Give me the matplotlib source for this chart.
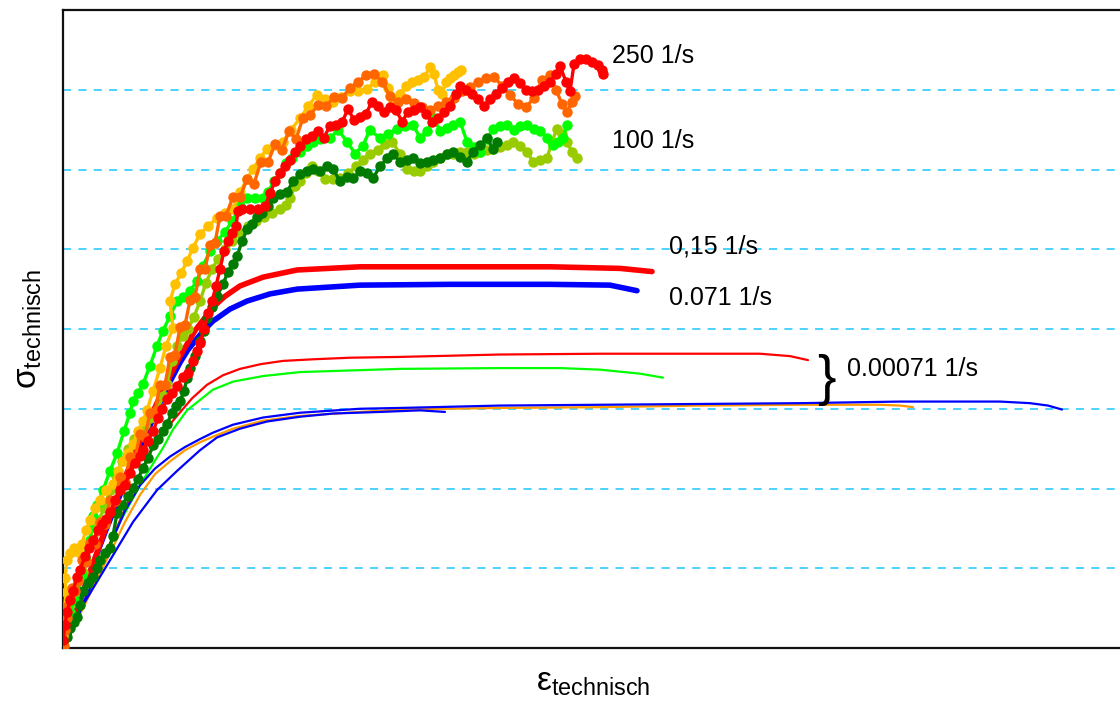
import numpy as np
import matplotlib
matplotlib.use("Agg")
import matplotlib.pyplot as plt

plt.rcParams['font.family'] = ['Liberation Sans', 'DejaVu Sans']
plt.rcParams['mathtext.fontset'] = 'custom'
plt.rcParams['mathtext.rm'] = 'Liberation Sans'
plt.rcParams['mathtext.it'] = 'Liberation Sans'

# strain in %, stress in MPa

# --- 250 1/s (three tests, noisy high speed data)
eps_250_orange = [0.05, 0.10, 0.20, 0.15, 0.35, 0.45, 0.60, 0.75, 0.95, 1.15, 1.35, 1.60, 1.85, 2.10, 2.35, 2.60,
                  2.85, 3.10, 3.35, 3.60, 3.85, 4.10, 4.35, 4.60, 4.85, 5.10, 5.35, 5.60, 5.85, 6.10, 6.35, 6.60,
                  6.85, 7.10, 7.35, 7.60, 7.85, 8.15, 8.50, 8.85, 9.20, 9.55, 9.90, 10.25, 10.60, 10.95, 11.30,
                  11.65, 12.00, 12.35, 12.75, 13.15, 13.55, 13.95, 14.35, 14.75, 15.15, 15.55, 15.95, 16.35,
                  16.75, 17.15, 17.55, 17.95, 18.35, 18.75, 19.15, 19.55, 19.95, 20.35, 20.75, 21.15, 21.55,
                  21.95, 22.35, 22.75, 23.15, 23.55, 23.95, 24.35, 24.65, 24.95, 25.20, 25.45, 25.60]
sig_250_orange = [2, 22, 38, 52, 62, 75, 72, 84, 110, 108, 132, 130, 158, 155, 186, 184,
                  215, 208, 240, 238, 268, 265, 295, 296, 330, 330, 365, 368, 402, 405, 436, 440,
                  475, 475, 505, 508, 542, 542, 566, 565, 588, 582, 610, 609, 632, 625, 648,
                  638, 665, 668, 681, 679, 691, 690, 702, 710, 718, 720, 710, 692,
                  685, 689, 684, 678, 675, 680, 685, 690, 699, 704, 710, 715, 716,
                  705, 694, 682, 678, 690, 712, 719, 700, 682, 672, 685, 692]

eps_250_red = [0.00, 0.10, 0.20, 0.35, 0.50, 0.70, 0.85, 1.10, 1.30, 1.50, 1.75, 1.95, 2.15, 2.35, 2.60, 2.85,
               3.10, 3.35, 3.60, 3.85, 4.00, 4.25, 4.50, 4.75, 4.95, 5.20, 5.45, 5.70, 6.00, 6.25, 6.50, 6.70,
               6.85, 7.05, 7.25, 7.45, 7.65, 7.85, 8.05, 8.25, 8.45, 8.65, 8.75, 8.95, 9.35, 9.75, 10.10,
               10.35, 10.60, 10.85, 11.10, 11.35, 11.60, 11.85, 12.15, 12.45, 12.75, 13.05, 13.35, 13.65,
               13.95, 14.25, 14.55, 14.85, 15.15, 15.45, 15.75, 16.05, 16.35, 16.65, 16.95, 17.25, 17.55,
               17.85, 18.15, 18.45, 18.75, 19.05, 19.35, 19.65, 19.85, 20.15, 20.45, 20.75, 21.05, 21.35,
               21.65, 21.95, 22.25, 22.55, 22.85, 23.15, 23.45, 23.75, 24.05, 24.35, 24.65, 24.85, 25.15,
               25.35, 25.55, 25.85, 26.15, 26.45, 26.75, 26.95, 27.00]
sig_250_red = [10, 29, 45, 60, 72, 89, 98, 115, 125, 135, 148, 156, 162, 170, 185, 198,
               205, 220, 232, 241, 248, 260, 272, 288, 300, 312, 320, 329, 340, 345, 360, 372,
               382, 400, 420, 435, 454, 475, 498, 510, 520, 529, 548, 551, 551, 551, 554,
               570, 585, 595, 604, 612, 622, 629, 638, 642, 648, 640, 655, 656,
               659, 676, 662, 666, 670, 685, 679, 672, 678, 675, 660, 672, 675,
               678, 669, 660, 665, 672, 680, 695, 705, 700, 695, 688, 680, 688,
               695, 702, 710, 715, 708, 700, 698, 700, 705, 710, 720, 730, 710,
               698, 732, 739, 739, 735, 731, 725, 720]

eps_250_yellow = [0.00, 0.05, 0.15, 0.10, 0.20, 0.35, 0.55, 0.75, 0.95, 1.15, 1.35, 1.60, 1.85, 2.15, 2.50,
                  2.75, 3.00, 3.25, 3.50, 3.75, 4.00, 4.20, 4.50, 4.85, 5.15, 5.50, 5.35, 5.60, 5.90, 6.20,
                  6.50, 6.85, 7.25, 7.70, 8.10, 8.50, 8.85, 9.20, 9.50, 9.85, 10.20, 10.60, 11.00, 11.40,
                  11.85, 12.25, 12.70, 13.10, 13.50, 13.90, 14.35, 14.75, 15.20, 15.60, 16.00, 16.25, 16.50,
                  16.85, 17.15, 17.45, 17.75, 18.05, 18.35, 18.55, 18.75, 18.95, 19.15, 19.35, 19.55, 19.75,
                  19.90]
sig_250_yellow = [15, 45, 70, 88, 110, 119, 125, 120, 131, 148, 160, 175, 185, 198, 206,
                  222, 235, 245, 256, 272, 285, 298, 322, 351, 379, 401, 435, 456, 470, 485,
                  502, 519, 529, 539, 545, 551, 572, 588, 601, 614, 626, 631, 635, 650,
                  664, 679, 694, 689, 685, 691, 698, 699, 701, 710, 719, 702, 685,
                  695, 705, 710, 712, 716, 728, 720, 700, 695, 710, 715, 719, 722,
                  725]

# --- 100 1/s (three tests)
eps_100_green = [0.00, 0.15, 0.35, 0.55, 0.75, 0.95, 1.15, 1.35, 1.50, 1.70, 2.00, 2.35, 2.70, 3.05, 3.35,
                 3.50, 3.75, 4.00, 4.35, 4.70, 5.00, 5.35, 5.70, 6.00, 6.35, 6.70, 7.00, 7.35, 7.70, 8.10,
                 8.45, 8.85, 9.20, 9.60, 10.00, 10.25, 10.55, 10.85, 11.15, 11.45, 11.85, 12.20, 12.50,
                 12.85, 13.35, 13.75, 14.20, 14.60, 15.00, 15.35, 15.85, 16.25, 16.70, 17.10, 17.50, 17.85,
                 18.20, 18.55, 18.85, 19.20, 19.50, 19.85, 20.20, 20.55, 20.85, 21.20, 21.50, 21.85, 22.20,
                 22.55, 22.85, 23.20, 23.55, 23.85, 24.20, 24.50, 24.75, 25.00, 25.20]
sig_100_green = [8, 29, 45, 60, 72, 91, 110, 135, 166, 179, 198, 222, 244, 272, 295,
                 310, 320, 331, 354, 379, 398, 416, 435, 440, 448, 460, 479, 498, 510, 522,
                 535, 554, 564, 564, 564, 572, 585, 595, 608, 614, 622, 629, 635,
                 638, 639, 650, 635, 620, 630, 650, 639, 645, 651, 654, 656, 640,
                 648, 665, 648, 652, 656, 660, 635, 628, 622, 638, 651, 654, 656,
                 650, 655, 656, 651, 648, 640, 631, 635, 639, 656]

eps_100_olive = [0.00, 0.15, 0.35, 0.55, 0.75, 1.00, 1.25, 1.50, 1.75, 2.05, 2.35, 2.65, 2.95, 3.25, 3.55,
                 3.85, 4.10, 4.35, 4.70, 5.00, 5.20, 5.45, 5.70, 6.00, 6.25, 6.55, 6.85, 7.15, 7.45, 7.75,
                 8.10, 8.45, 8.85, 9.25, 9.65, 10.05, 10.45, 10.85, 11.15, 11.35, 11.60, 11.85, 12.15,
                 12.45, 12.75, 13.10, 13.50, 13.85, 14.25, 14.65, 15.00, 15.35, 15.75, 16.10, 16.45, 16.85,
                 17.20, 17.55, 17.85, 18.20, 18.50, 18.85, 19.20, 19.50, 19.85, 20.20, 20.55, 20.85, 21.20,
                 21.50, 21.85, 22.20, 22.50, 22.85, 23.20, 23.50, 23.85, 24.20, 24.45, 24.70, 24.95, 25.20,
                 25.45, 25.70]
sig_100_olive = [4, 25, 41, 58, 72, 95, 125, 152, 158, 175, 198, 216, 235, 250, 262,
                 272, 279, 288, 298, 316, 331, 360, 379, 391, 400, 415, 435, 458, 475, 488,
                 500, 510, 520, 529, 535, 540, 545, 550, 556, 564, 579, 585, 595,
                 604, 598, 588, 588, 589, 595, 604, 612, 620, 625, 632, 635, 620,
                 601, 598, 598, 604, 610, 615, 619, 619, 622, 622, 620, 622, 625,
                 626, 628, 631, 635, 629, 622, 610, 612, 614, 635, 651, 644, 635,
                 622, 614]

eps_100_dark = [0.05, 0.20, 0.35, 0.55, 0.70, 0.85, 1.00, 1.25, 1.50, 1.70, 1.85, 2.10, 2.35, 2.50, 2.70,
                2.95, 3.25, 3.50, 3.75, 4.00, 4.25, 4.50, 4.75, 5.00, 5.20, 5.45, 5.65, 5.85, 6.05, 6.20,
                6.35, 6.60, 6.85, 7.05, 7.20, 7.45, 7.70, 8.00, 8.25, 8.50, 8.70, 8.95, 9.20, 9.45, 9.70,
                9.95, 10.25, 10.50, 10.85, 11.20, 11.50, 11.85, 12.20, 12.50, 12.85, 13.20, 13.50, 13.85,
                14.20, 14.50, 14.85, 15.20, 15.50, 15.85, 16.20, 16.50, 16.85, 17.20, 17.50, 17.85, 18.20,
                18.50, 18.85, 19.20, 19.50, 19.85, 20.20, 20.50, 20.85, 21.20, 21.50, 21.70]
sig_100_dark = [0, 14, 25, 32, 39, 54, 72, 82, 89, 100, 110, 119, 126, 141, 169,
                179, 191, 201, 212, 226, 238, 254, 262, 272, 281, 295, 304, 310, 322, 339,
                351, 366, 385, 398, 414, 428, 441, 456, 472, 482, 491, 510, 525, 532, 541,
                545, 554, 564, 569, 572, 585, 594, 598, 601, 598, 604, 601, 585,
                591, 589, 598, 595, 589, 604, 614, 619, 610, 612, 614, 608, 610,
                612, 614, 620, 622, 616, 610, 622, 631, 639, 626, 635]

# --- 0,15 1/s and 0.071 1/s
eps_015 = [0.05, 0.6, 1.35, 2.1, 2.85, 3.6, 4.35, 5.1, 5.85, 6.25, 6.6, 7.0, 7.35, 7.7, 8.1, 8.85, 10.0, 11.7,
           14.85, 19.35, 24.35, 27.85, 29.45]
sig_015 = [0, 41, 95, 148, 198, 245, 288, 329, 366, 383, 398, 411, 422, 432, 441, 454, 465, 474,
           478, 478, 478, 476, 472]

eps_0071 = [0.05, 0.6, 1.35, 2.1, 2.85, 3.6, 4.35, 5.1, 5.85, 6.25, 6.7, 7.1, 7.5, 8.35, 9.2, 10.35, 11.7,
            14.85, 19.35, 24.35, 27.35, 28.7]
sig_0071 = [0, 41, 95, 145, 192, 238, 279, 322, 358, 374, 388, 400, 410, 425, 435, 444, 450,
            455, 456, 456, 455, 448]

# --- 0.00071 1/s (five tests)
eps_q_red = [0.05, 0.85, 1.85, 2.85, 3.6, 4.35, 5.0, 5.7, 6.45, 7.2, 8.0, 8.85, 9.9, 11.0, 12.5, 14.35, 16.85,
             21.85, 26.85, 31.85, 34.85, 36.35, 37.25]
sig_q_red = [0, 45, 103, 160, 204, 245, 270, 291, 313, 330, 342, 350, 356, 360, 362, 364, 365,
             368, 369, 369, 369, 366, 361]

eps_q_green = [0.05, 0.85, 1.85, 2.85, 3.85, 4.35, 5.0, 5.5, 6.2, 6.85, 7.5, 8.5, 10.0, 11.85,
               16.85, 21.85, 24.85, 26.85, 28.85, 30.0]
sig_q_green = [0, 43, 100, 158, 204, 225, 251, 274, 298, 311, 324, 334, 341, 346,
               350, 351, 351, 349, 344, 339]

eps_q_blue1 = [0.05, 0.85, 1.6, 2.35, 3.1, 3.85, 4.6, 5.35, 6.1, 6.85, 7.5, 8.5, 10.0, 11.85,
               14.85, 16.85, 21.85, 26.85, 31.85, 36.85, 41.85, 46.85, 48.35, 49.25, 49.95]
sig_q_blue1 = [0, 48, 88, 129, 172, 204, 225, 240, 252, 262, 270, 280, 289, 295,
               300, 301, 304, 305, 306, 307, 309, 309, 307, 304, 299]

eps_q_orange = [0.05, 0.85, 1.6, 2.35, 3.1, 3.85, 4.6, 5.35, 6.1, 6.85, 7.5, 8.5, 10.0, 11.85,
                14.85, 16.85, 21.85, 26.85, 31.85, 36.85, 40.85, 41.85, 42.5]
sig_q_orange = [0, 42, 81, 119, 158, 192, 218, 234, 248, 258, 265, 275, 285, 291,
                296, 299, 301, 302, 304, 305, 305, 304, 302]

eps_q_blue2 = [0.05, 1.0, 2.35, 3.5, 4.7, 5.7, 6.85, 7.7, 8.85, 10.2, 11.85, 13.5, 15.85, 17.85, 19.1]
sig_q_blue2 = [0, 54, 110, 158, 198, 222, 248, 264, 275, 284, 290, 294, 296, 298, 296]

grid_levels = [100, 200, 300, 400, 500, 600, 700]

fig = plt.figure(figsize=(11.2, 7.06), dpi=100)
ax = fig.add_axes([63 / 1120, 58 / 706, 1060 / 1120, 638 / 706])
ax.set_xlim(0, 53)
ax.set_ylim(0, 800)

# slow tests: thin lines
thin = [(eps_q_red, sig_q_red, '#FF0000'), (eps_q_green, sig_q_green, '#00FF00'),
        (eps_q_orange, sig_q_orange, '#FF9900'), (eps_q_blue1, sig_q_blue1, '#0000FF'),
        (eps_q_blue2, sig_q_blue2, '#0000FF')]
for e, s, c in thin:
    ax.plot(e, s, color=c, lw=1.6, solid_capstyle='round', solid_joinstyle='round', zorder=3)

ax.plot(eps_0071, sig_0071, color='#0000FF', lw=4, solid_capstyle='round', solid_joinstyle='round', zorder=4)
ax.plot(eps_015, sig_015, color='#FF0000', lw=4, solid_capstyle='round', solid_joinstyle='round', zorder=4)

# high speed tests: line + dots
fast = [(eps_100_olive, sig_100_olive, '#99CC00'), (eps_100_green, sig_100_green, '#00FF00'),
        (eps_100_dark, sig_100_dark, '#007A00'), (eps_250_yellow, sig_250_yellow, '#FFC000'),
        (eps_250_orange, sig_250_orange, '#FF6600'), (eps_250_red, sig_250_red, '#FF0000')]
for e, s, c in fast:
    ax.plot(e, s, color=c, lw=2.4, marker='o', ms=6.5, mec=c, mfc=c, zorder=5)

# labels for the strain rates
txt = dict(fontsize=18, va='center', ha='left', color='black')
ax.text(27.45, 742, '250 1/s', **txt)
ax.text(27.45, 636, '100 1/s', **txt)
ax.text(30.3, 504, '0,15 1/s', **txt)
ax.text(30.3, 439, '0.071 1/s', **txt)
ax.text(39.2, 350, '0.00071 1/s', **txt)
ax.text(37.7, 336, '}', fontsize=40, va='center', ha='left', color='black')

ax.set_yticks(grid_levels)
ax.set_xticks([])
ax.tick_params(length=0, labelleft=False)
ax.yaxis.grid(True, color='#40CFFF', lw=1.3, linestyle=(0, (4.5, 4)))
ax.set_axisbelow(True)

for side in ['left', 'bottom', 'top', 'right']:
    ax.spines[side].set_linewidth(1.6)
    ax.spines[side].set_color('#111111')

ax.set_xlabel(r'$\mathrm{ε}_{\mathrm{technisch}}$', fontsize=24, labelpad=14)
ax.set_ylabel(r'$\mathrm{σ}_{\mathrm{technisch}}$', fontsize=24, labelpad=14)

fig.savefig('out.png', dpi=100)
